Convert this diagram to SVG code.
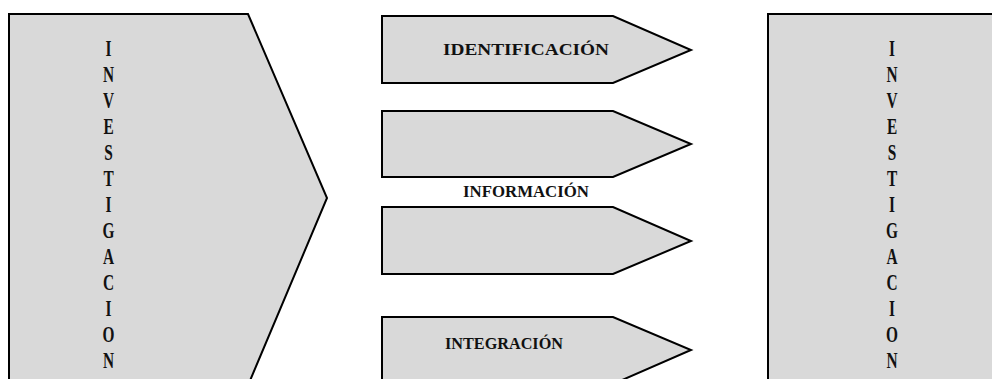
<svg xmlns="http://www.w3.org/2000/svg" width="992" height="379" viewBox="0 0 992 379">
<style>
.shape{fill:#d9d9d9;stroke:#000;stroke-width:2;stroke-linejoin:miter}
.lbl{font-family:"Liberation Serif","Times New Roman",serif;font-weight:bold;fill:#111}
.v{font-size:24px;text-anchor:middle}
.h{font-size:16px}
</style>
<rect width="992" height="379" fill="#fff"/>
<g id="left-investigacion">
<polygon class="shape" points="9,14 248,14 327,198 249,383 9,383"/>
<g transform="translate(108.5,0) scale(0.64,1)">
<text class="lbl v" x="0" y="56">I</text>
<text class="lbl v" x="0" y="82">N</text>
<text class="lbl v" x="0" y="108">V</text>
<text class="lbl v" x="0" y="134">E</text>
<text class="lbl v" x="0" y="160">S</text>
<text class="lbl v" x="0" y="186">T</text>
<text class="lbl v" x="0" y="212">I</text>
<text class="lbl v" x="0" y="238">G</text>
<text class="lbl v" x="0" y="264">A</text>
<text class="lbl v" x="0" y="290">C</text>
<text class="lbl v" x="0" y="316">I</text>
<text class="lbl v" x="0" y="342">O</text>
<text class="lbl v" x="0" y="368">N</text>
</g>
</g>
<g id="arrow-identificacion">
<polygon class="shape" points="382,16 613,16 691,50 613,83 382,83"/>
<text class="lbl h" x="443" y="55" textLength="166" lengthAdjust="spacingAndGlyphs">IDENTIFICACIÓN</text>
</g>
<g id="arrow-informacion-1">
<polygon class="shape" points="382,111 613,111 691,144 613,177 382,177"/>
</g>
<g id="label-informacion">
<text class="lbl h" x="463" y="197" textLength="126" lengthAdjust="spacingAndGlyphs">INFORMACIÓN</text>
</g>
<g id="arrow-informacion-2">
<polygon class="shape" points="382,207 613,207 691,241 613,274 382,274"/>
</g>
<g id="arrow-integracion">
<polygon class="shape" points="382,317 613,317 691,350 613,384 382,384"/>
<text class="lbl h" x="445" y="349" textLength="118" lengthAdjust="spacingAndGlyphs">INTEGRACIÓN</text>
</g>
<g id="right-investigacion">
<rect class="shape" x="768" y="14" width="240" height="380"/>
<g transform="translate(892,0) scale(0.64,1)">
<text class="lbl v" x="0" y="56">I</text>
<text class="lbl v" x="0" y="82">N</text>
<text class="lbl v" x="0" y="108">V</text>
<text class="lbl v" x="0" y="134">E</text>
<text class="lbl v" x="0" y="160">S</text>
<text class="lbl v" x="0" y="186">T</text>
<text class="lbl v" x="0" y="212">I</text>
<text class="lbl v" x="0" y="238">G</text>
<text class="lbl v" x="0" y="264">A</text>
<text class="lbl v" x="0" y="290">C</text>
<text class="lbl v" x="0" y="316">I</text>
<text class="lbl v" x="0" y="342">O</text>
<text class="lbl v" x="0" y="368">N</text>
</g>
</g>
<g id="connectors"></g>
</svg>
